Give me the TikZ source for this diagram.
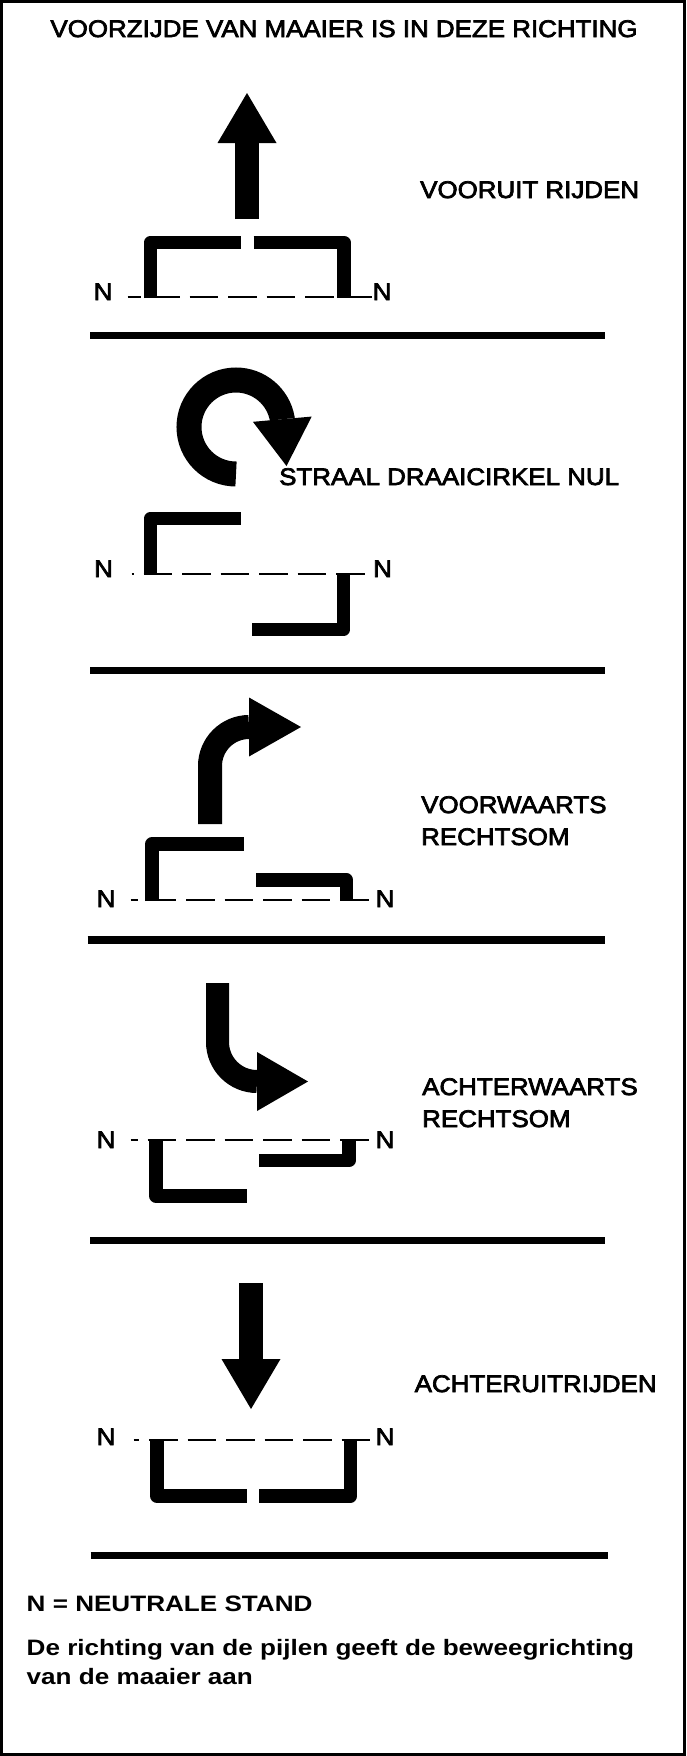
\documentclass[tikz,border=0pt]{standalone}
\usepackage{fontspec}
\setmainfont{Liberation Sans}
\newfontfamily\tagfont[FakeStretch=1.08, FakeBold=3]{Liberation Sans}
\newfontfamily\notefont[FakeStretch=1.17]{Liberation Sans Bold}
\usetikzlibrary{arrows.meta}

\begin{document}
\begin{tikzpicture}[
    x=1pt, y=-1pt,
    hdr/.style={inner sep=0pt, anchor=base, font=\tagfont\fontsize{24}{28}\selectfont},
    tag/.style={inner sep=0pt, anchor=base west, font=\tagfont\fontsize{24}{28}\selectfont},
    note/.style={inner sep=0pt, anchor=base west, font=\notefont\fontsize{22.3}{26}\selectfont},
    blade/.style={line width=13.5pt, line join=round},
    neutral/.style={line width=2pt, dash pattern=on 28.5pt off 10pt},
    divider/.style={line width=7.5pt},
    pijl/.style={line width=24pt, -{Triangle[length=#1, width=59pt, line width=0pt]}}
]
    \useasboundingbox (0,0) rectangle (686,1756);
    \draw[line width=3pt, fill=white] (1.5,1.5) rectangle (684.5,1754.5);

    \node[hdr] (title) at (344,37) {VOORZIJDE VAN MAAIER IS IN DEZE RICHTING};

    % Vooruit rijden
    \draw[pijl=50pt] (247,219) -- (247,93);
    \node[tag] (vooruit) at (420,198) {VOORUIT RIJDEN};
    \node[tag] (n1l) at (93.5,300) {N};
    \node[tag] (n1r) at (372.5,300) {N};
    \draw[neutral, dash phase=15pt] ([xshift=15pt, yshift=3pt]n1l.base east) -- ([yshift=3pt]n1r.base west);
    \draw[blade] (150.5,298) -- (150.5,242.5) -- (240.5,242.5);
    \draw[blade] (253.5,242.5) -- (344,242.5) -- (344,298);
    \draw[divider] (90,335.5) -- (605,335.5);

    % Straal draaicirkel nul
    \draw[pijl=47pt, line width=25pt] (236,474) arc[start angle=90, end angle=350, radius=47] -- (286.5,466);
    \node[tag] (straal) at (279,485) {STRAAL DRAAICIRKEL NUL};
    \node[tag] (n2l) at (94,577) {N};
    \node[tag] (n2r) at (373,577) {N};
    \draw[neutral, dash phase=26.5pt] ([xshift=18.5pt, yshift=3pt]n2l.base east) -- ([xshift=-7pt, yshift=3pt]n2r.base west);
    \draw[blade] (150.5,574) -- (150.5,518.5) -- (240.5,518.5);
    \draw[blade] (343.5,574) -- (343.5,629.5) -- (252,629.5);
    \draw[divider] (90,670.5) -- (605,670.5);

    % Voorwaarts rechtsom
    \draw[pijl=52pt] (210,824) -- (210,766) arc[start angle=180, end angle=270, radius=39] -- (301,727);
    \node[tag] (voorw) at (421,813) {VOORWAARTS};
    \node[tag] (voorwb) at (421,845) {RECHTSOM};
    \node[tag] (n3l) at (96.5,907) {N};
    \node[tag] (n3r) at (375.5,907) {N};
    \draw[neutral, dash phase=21.5pt] ([xshift=15pt, yshift=7pt]n3l.base east) -- ([xshift=-5.5pt, yshift=7pt]n3r.base west);
    \draw[blade] (152,901) -- (152,844) -- (244,844);
    \draw[blade] (256,880) -- (346.5,880) -- (346.5,901);
    \draw[divider] (87.5,940) -- (605,940);

    % Achterwaarts rechtsom
    \draw[pijl=51pt, line width=23pt] (217.5,983) -- (217.5,1042) arc[start angle=180, end angle=90, radius=39.5] -- (308,1081.5);
    \node[tag] (achterw) at (422,1095) {ACHTERWAARTS};
    \node[tag] (achterwb) at (422,1127) {RECHTSOM};
    \node[tag] (n4l) at (96.5,1148) {N};
    \node[tag] (n4r) at (375.5,1148) {N};
    \draw[neutral, dash phase=21.5pt] ([xshift=15pt, yshift=8pt]n4l.base east) -- ([xshift=-5.5pt, yshift=8pt]n4r.base west);
    \draw[blade] (349,1140) -- (349,1160.5) -- (259,1160.5);
    \draw[blade] (156,1140) -- (156,1196) -- (247,1196);
    \draw[divider] (90,1240.5) -- (605,1240.5);

    % Achteruitrijden
    \draw[pijl=50pt] (251,1283) -- (251,1409);
    \node[tag] (achteruit) at (414.5,1392) {ACHTERUITRIJDEN};
    \node[tag] (n5l) at (96.5,1445) {N};
    \node[tag] (n5r) at (375.5,1445) {N};
    \draw[neutral, dash phase=23pt] ([xshift=18pt, yshift=5pt]n5l.base east) -- ([xshift=-4.5pt, yshift=5pt]n5r.base west);
    \draw[blade] (157,1440) -- (157,1496) -- (247,1496);
    \draw[blade] (259,1496) -- (350.5,1496) -- (350.5,1440);
    \draw[divider] (90.5,1555.5) -- (608,1555.5);

    % Legenda
    \node[note] (legend) at (26.5,1611) {N = NEUTRALE STAND};
    \node[note] (uitleg) at (26.5,1655) {De richting van de pijlen geeft de beweegrichting};
    \node[note] (uitlegb) at (26.5,1684) {van de maaier aan};
\end{tikzpicture}
\end{document}
